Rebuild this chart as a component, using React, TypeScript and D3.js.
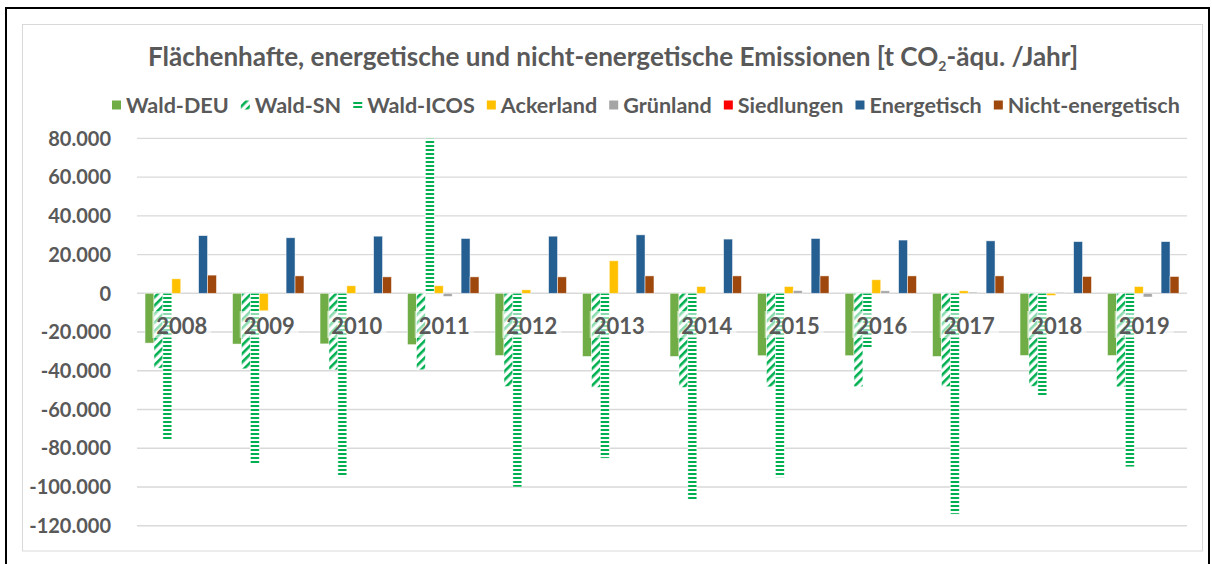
import React, { useEffect, useRef } from 'react';
import * as d3 from 'd3';

// categories
const years = ['2008', '2009', '2010', '2011', '2012', '2013', '2014', '2015', '2016', '2017', '2018', '2019'];

// series (t CO2-äqu. / Jahr)
const waldDEU = [-25700, -26200, -26100, -26500, -32100, -32600, -32600, -32200, -32200, -32600, -32100, -32100];
const waldSN = [-38600, -39000, -39500, -39500, -48100, -48500, -48600, -48300, -48200, -48200, -48000, -48300];
const waldICOS = [-76000, -88200, -94900, 80000, -100000, -85100, -107000, -95000, -28000, -114000, -53400, -89600];
const ackerland = [7500, -9000, 3900, 3900, 1800, 16800, 3500, 3500, 7000, 1300, -1100, 3500];
const gruenland = [0, 0, 0, -1600, 0, 0, 0, 1400, 1300, 600, 500, -1900];
const siedlungen = [0, 0, 0, 0, 0, 0, 0, 0, 0, 0, 0, 0];
const energetisch = [29800, 28700, 29500, 28300, 29500, 30200, 28000, 28300, 27500, 27100, 26700, 26700];
const nichtEnergetisch = [9400, 9000, 8500, 8500, 8500, 9000, 9000, 9000, 9000, 9000, 8700, 8700];

const seriesNames = ['Wald-DEU', 'Wald-SN', 'Wald-ICOS', 'Ackerland', 'Grünland', 'Siedlungen', 'Energetisch', 'Nicht-energetisch'];
const seriesValues = [waldDEU, waldSN, waldICOS, ackerland, gruenland, siedlungen, energetisch, nichtEnergetisch];

const yTicks = [80000, 60000, 40000, 20000, 0, -20000, -40000, -60000, -80000, -100000, -120000];

const fills = ['#70AD47', 'url(#hatchSN)', 'url(#dashICOS)', '#FFC000', '#A5A5A5', '#FF0000', '#255E91', '#9E480E'];

const de = d3.formatLocale({ decimal: ',', thousands: '.', grouping: [3], currency: ['', ' €'], minus: '-' });
const fmt = de.format(',');

export default function App() {
  const ref = useRef<SVGSVGElement>(null);

  useEffect(() => {
    const svg = d3.select(ref.current);
    svg.selectAll('*').remove();
    const font = 'Lato, "Open Sans", sans-serif';
    const grey = '#595959';

    const width = 1212;
    const left = 137;
    const right = 1187;

    const defs = svg.append('defs');
    const sn = defs.append('pattern').attr('id', 'hatchSN').attr('patternUnits', 'userSpaceOnUse')
      .attr('width', 6).attr('height', 6).attr('patternTransform', 'rotate(45)');
    sn.append('rect').attr('width', 6).attr('height', 6).attr('fill', '#fff');
    sn.append('rect').attr('width', 2.6).attr('height', 6).attr('fill', '#00B050');
    const ic = defs.append('pattern').attr('id', 'dashICOS').attr('patternUnits', 'userSpaceOnUse')
      .attr('width', 8).attr('height', 4);
    ic.append('rect').attr('width', 8).attr('height', 4).attr('fill', '#fff');
    ic.append('rect').attr('y', 1).attr('width', 8).attr('height', 2).attr('fill', '#00B050');

    svg.append('rect').attr('width', width).attr('height', 564).attr('fill', '#fff');
    // outer frame + chart area border
    svg.append('rect').attr('x', 6).attr('y', 8).attr('width', 1203).attr('height', 580)
      .attr('fill', 'none').attr('stroke', '#000').attr('stroke-width', 2);
    svg.append('rect').attr('x', 22.5).attr('y', 24.5).attr('width', 1180).attr('height', 526.5)
      .attr('fill', 'none').attr('stroke', '#D9D9D9').attr('stroke-width', 1);

    const y = d3.scaleLinear().domain([-120000, 80000]).range([525.7, 138.4]);
    const x = d3.scaleBand().domain(years).range([left, right]);
    const bw = x.step() / (seriesNames.length + 1.8);
    const inner = d3.scaleBand().domain(seriesNames).range([0.9 * bw, x.step() - 0.9 * bw]);

    // grid
    svg.append('g').selectAll('line').data(yTicks).join('line')
      .attr('x1', left).attr('x2', right)
      .attr('y1', (d) => y(d)).attr('y2', (d) => y(d))
      .attr('stroke', '#D9D9D9').attr('stroke-width', 1.4);

    svg.append('g').selectAll('text').data(yTicks).join('text')
      .attr('x', 111).attr('y', (d) => y(d)).attr('dy', '0.36em')
      .attr('text-anchor', 'end').attr('font-family', font).attr('font-weight', 700)
      .attr('font-size', 20).attr('fill', grey).text((d) => fmt(d));

    // bars
    const barG = svg.append('g');
    seriesNames.forEach((name, s) => {
      const vals = seriesValues[s];
      barG.append('g').selectAll('rect').data(years.filter((_, i) => vals[i] !== 0)).join('rect')
        .attr('x', (d) => (x(d) as number) + (inner(name) as number))
        .attr('width', inner.bandwidth())
        .attr('y', (d) => y(Math.max(0, vals[years.indexOf(d)])))
        .attr('height', (d) => Math.abs(y(vals[years.indexOf(d)]) - y(0)))
        .attr('fill', fills[s])
        .attr('stroke', '#fff').attr('stroke-width', 0.8).attr('stroke-opacity', 0.6);
    });

    // category labels
    const catG = svg.append('g');
    years.forEach((yr) => {
      const g = catG.append('g');
      const bg = g.append('rect');
      const t = g.append('text').attr('x', (x(yr) as number) + x.bandwidth() / 2 + 1).attr('y', 334)
        .attr('text-anchor', 'middle').attr('font-family', font).attr('font-weight', 700)
        .attr('font-size', 22).attr('fill', grey).text(yr);
      const bb = (t.node() as SVGTextElement).getBBox();
      bg.attr('x', bb.x - 4).attr('y', 311).attr('width', bb.width + 8).attr('height', 27)
        .attr('fill', '#fff').attr('fill-opacity', 0.55);
    });

    // title
    const title = svg.append('text').attr('x', 613).attr('y', 66).attr('text-anchor', 'middle')
      .attr('font-family', font).attr('font-weight', 700).attr('font-size', 22).attr('fill', grey);
    title.append('tspan').text('Flächenhafte, energetische und nicht-energetische Emissionen [t CO');
    title.append('tspan').attr('font-size', 14).attr('dy', 5).text('2');
    title.append('tspan').attr('dy', -5).text('-äqu. /Jahr]');
    const tw = (title.node() as SVGTextElement).getComputedTextLength();
    title.attr('font-size', 22 * 932 / tw);

    // legend
    const lg = svg.append('g');
    const items = seriesNames.map((name, s) => {
      const g = lg.append('g');
      g.append('rect').attr('width', 9).attr('height', 9).attr('y', -4.5).attr('fill', fills[s]);
      const t = g.append('text').attr('x', 14).attr('dy', '0.36em').attr('font-family', font)
        .attr('font-weight', 700).attr('font-size', 17).attr('fill', grey).text(name);
      return { g, t, w: (t.node() as SVGTextElement).getComputedTextLength() };
    });
    const gap = 12;
    const sumText = d3.sum(items, (d) => d.w);
    const fs = 17 * (1068 - items.length * 14 - (items.length - 1) * gap) / sumText;
    let cx = 112;
    items.forEach((it) => {
      it.t.attr('font-size', fs);
      it.g.attr('transform', `translate(${cx},105)`);
      cx += 14 + it.w * fs / 17 + gap;
    });
  }, []);

  return (
    <div style={{ position: 'absolute', left: 0, top: 0 }}>
      <svg ref={ref} width={1212} height={564} style={{ display: 'block' }} />
    </div>
  );
}
